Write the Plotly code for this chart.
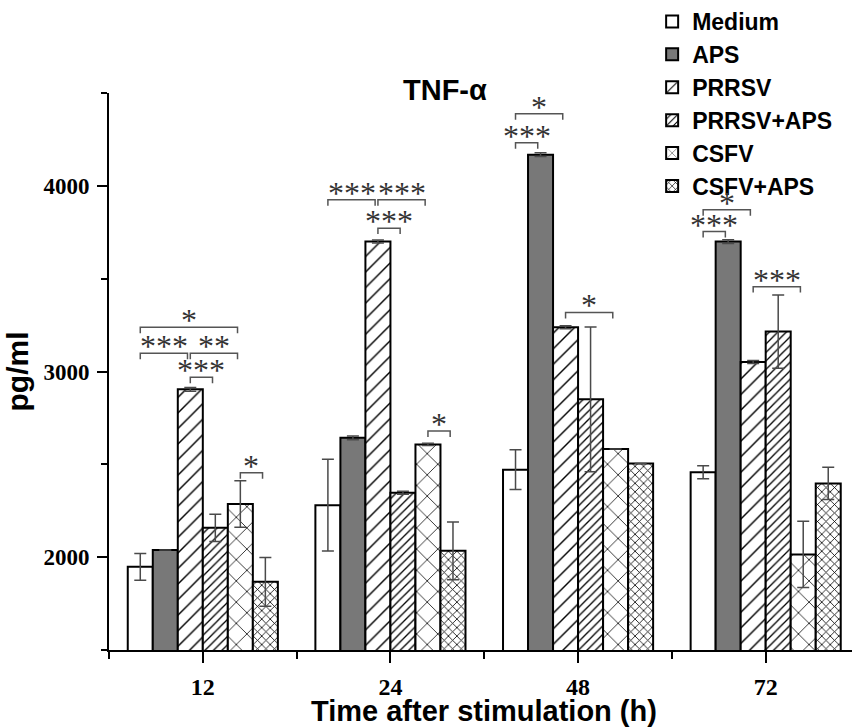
import plotly.graph_objects as go

# ---------------- data ----------------
times = ["12", "24", "48", "72"]
groups = ["Medium", "APS", "PRRSV", "PRRSV+APS", "CSFV", "CSFV+APS"]

medium = [1948, 2280, 2471, 2457]
medium_err = [72, 247, 107, 35]
aps = [2038, 2643, 4168, 3700]
aps_err = [0, 10, 10, 10]
prrsv = [2904, 3700, 3238, 3051]
prrsv_err = [10, 8, 8, 8]
prrsv_aps = [2158, 2347, 2850, 3215]
prrsv_aps_err = [73, 8, 390, 197]
csfv = [2286, 2607, 2583, 2015]
csfv_err = [125, 6, 0, 179]
csfv_aps = [1867, 2034, 2505, 2397]
csfv_aps_err = [131, 156, 0, 87]

y_ticks = [2000, 3000, 4000]
y_minor_ticks = [1500, 2500, 3500, 4500]

# significance brackets: (time, from group, to group, level in pg/ml, label)
sig_brackets = [
    ("12", "Medium", "CSFV", 3238, "*"),
    ("12", "Medium", "PRRSV", 3098, "***"),
    ("12", "PRRSV", "CSFV", 3098, "**"),
    ("12", "PRRSV", "PRRSV+APS", 2969, "***"),
    ("12", "CSFV", "CSFV+APS", 2454, "*"),
    ("24", "Medium", "PRRSV", 3925, "***"),
    ("24", "PRRSV", "CSFV", 3925, "***"),
    ("24", "PRRSV", "PRRSV+APS", 3772, "***"),
    ("24", "CSFV", "CSFV+APS", 2679, "*"),
    ("48", "Medium", "PRRSV", 4388, "*"),
    ("48", "Medium", "APS", 4232, "***"),
    ("48", "PRRSV", "CSFV", 3318, "*"),
    ("72", "Medium", "PRRSV", 3871, "*"),
    ("72", "Medium", "APS", 3754, "***"),
    ("72", "PRRSV", "CSFV", 3457, "***"),
]

series = [
    (medium, medium_err),
    (aps, aps_err),
    (prrsv, prrsv_err),
    (prrsv_aps, prrsv_aps_err),
    (csfv, csfv_err),
    (csfv_aps, csfv_aps_err),
]

# ---------------- styles ----------------
def patt(shape, size, solidity):
    return dict(shape=shape, size=size, solidity=solidity, fgcolor="black",
                bgcolor="white", fgopacity=1, fillmode="overlay")

styles = [
    dict(color="white", pattern=dict(shape="")),
    dict(color="#787878", pattern=dict(shape="")),
    dict(color="white", pattern=patt("/", 11, 0.13)),
    dict(color="white", pattern=patt("/", 6, 0.22)),
    dict(color="white", pattern=patt("x", 15, 0.1)),
    dict(color="white", pattern=patt("x", 6, 0.25)),
]

x_pos = list(range(len(times)))
BARGAP = 0.2

fig = go.Figure()
for name, (vals, errs), st in zip(groups, series, styles):
    fig.add_trace(go.Bar(
        name=name,
        x=x_pos,
        y=vals,
        error_y=dict(type="data", array=errs, visible=True, color="#4a4a4a",
                     thickness=1.5, width=6),
        marker=dict(color=st["color"], pattern=st["pattern"],
                    line=dict(color="black", width=2)),
    ))

# bracket geometry derived from grouped-bar layout
slot = (1 - BARGAP) / len(groups)


def bar_center(t, g):
    return times.index(t) - (1 - BARGAP) / 2 + (groups.index(g) + 0.5) * slot


shapes = []
annotations = []
drop = 32
for t, g1, g2, lvl, lab in sig_brackets:
    x1 = bar_center(t, g1)
    x2 = bar_center(t, g2) - 0.015
    shapes.append(dict(
        type="path", xref="x", yref="y",
        path=f"M {x1},{lvl - drop} L {x1},{lvl} L {x2},{lvl} L {x2},{lvl - drop}",
        line=dict(color="#555555", width=1.5),
    ))
    annotations.append(dict(
        x=(x1 + x2) / 2, y=lvl, xref="x", yref="y",
        text=lab, showarrow=False,
        xanchor="center", yanchor="bottom", yshift=-13,
        font=dict(family="Liberation Serif", size=32, color="#333333"),
    ))

annotations.append(dict(
    x=0.452, y=1.005, xref="paper", yref="paper",
    text="TNF-α", showarrow=False, xanchor="center", yanchor="middle",
    font=dict(family="Liberation Sans", size=29, color="black", weight="bold"),
))
annotations.append(dict(
    x=0.505, y=-0.1095, xref="paper", yref="paper",
    text="Time after stimulation (h)", showarrow=False,
    xanchor="center", yanchor="middle",
    font=dict(family="Liberation Sans", size=29, color="black", weight="bold"),
))

fig.update_layout(
    width=852, height=728,
    margin=dict(l=109, r=0, t=93, b=78),
    paper_bgcolor="white", plot_bgcolor="white",
    barmode="group", bargap=BARGAP, bargroupgap=0,
    shapes=shapes, annotations=annotations,
    showlegend=True,
    legend=dict(
        x=0.731, y=1.168, xanchor="left", yanchor="top",
        font=dict(family="Liberation Sans", size=23, color="black", weight="bold"),
        bgcolor="rgba(0,0,0,0)", itemwidth=30,
    ),
    xaxis=dict(
        range=[-0.5, 3.46],
        tickvals=x_pos, ticktext=times,
        ticks="outside", ticklen=11, tickwidth=2, tickcolor="black",
        ticklabelstandoff=3,
        minor=dict(tickvals=[-0.5, 0.5, 1.5, 2.5, 3.5], ticks="outside",
                   ticklen=7, tickwidth=2, tickcolor="black"),
        showline=True, linecolor="black", linewidth=2,
        showgrid=False, zeroline=False,
        tickfont=dict(family="Liberation Serif", size=24, color="black", weight="bold"),
    ),
    yaxis=dict(
        range=[1500, 4500],
        tickvals=y_ticks,
        ticks="outside", ticklen=10, tickwidth=2, tickcolor="black",
        ticklabelstandoff=3,
        minor=dict(tickvals=y_minor_ticks, ticks="outside",
                   ticklen=6, tickwidth=2, tickcolor="black"),
        showline=True, linecolor="black", linewidth=2,
        showgrid=False, zeroline=False,
        tickfont=dict(family="Liberation Serif", size=23, color="black", weight="bold"),
        title=dict(text="pg/ml", standoff=6,
                   font=dict(family="Liberation Sans", size=30, color="black", weight="bold")),
    ),
)

# remove the browser's default 8 px body margin so the figure fills the window exactly
fig.write_html("out.html", config={"displayModeBar": False},
               post_script="document.body.style.margin='0px';")
